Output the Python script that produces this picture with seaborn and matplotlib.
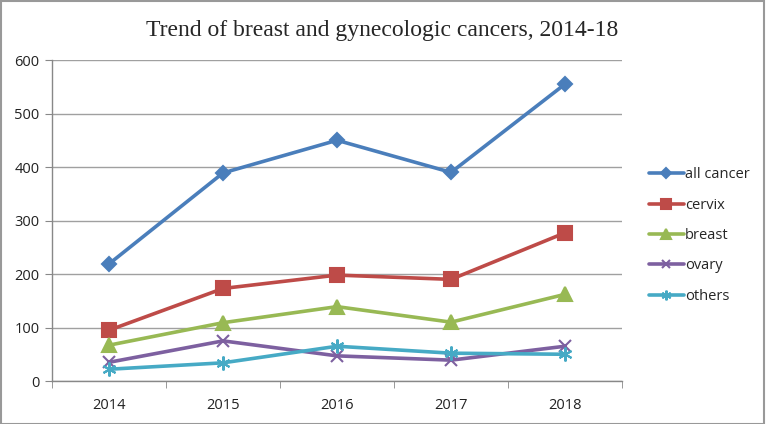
import matplotlib
matplotlib.use("Agg")
import matplotlib.pyplot as plt
import seaborn as sns
import pandas as pd
from matplotlib.patches import Rectangle

years = ["2014", "2015", "2016", "2017", "2018"]
all_cancer = [219, 389, 450, 390, 555]
cervix = [95, 173, 198, 190, 277]
breast = [67, 109, 139, 110, 162]
ovary = [35, 75, 47, 39, 65]
others = [22, 34, 65, 52, 50]
series_names = ["all cancer", "cervix", "breast", "ovary", "others"]
yticks = [0, 100, 200, 300, 400, 500, 600]

series_values = [all_cancer, cervix, breast, ovary, others]

sns.set_style("white")
plt.rcParams["font.family"] = ["Open Sans", "DejaVu Sans"]

colors = ["#4A7EBB", "#BE4B48", "#98B954", "#7D60A0", "#46AAC5"]
markers = ["D", "s", "^", "x", (6, 2, 0)]
msizes = [7, 10, 10, 9, 10]

fig = plt.figure(figsize=(7.66, 4.24), dpi=100)
ax = fig.add_axes([0.068, 0.1014, 0.744, 0.757])

for name, vals, c, m, ms in zip(series_names, series_values, colors, markers, msizes):
    d = pd.DataFrame({"pos": list(range(len(years))), "value": vals})
    sns.lineplot(data=d, x="pos", y="value", color=c, marker=m, markersize=ms,
                 markeredgecolor=c, markerfacecolor=c, markeredgewidth=1.5,
                 linewidth=2.6, label=name, ax=ax)

ax.set_xlim(-0.5, 4.5)
ax.set_ylim(0, 600)
ax.set_yticks(yticks)
ax.set_yticklabels([str(t) for t in yticks], fontsize=10.5, color="#222222")
ax.set_xticks(range(len(years)))
ax.set_xticklabels(years, fontsize=10.5, color="#222222")
ax.set_xticks([-0.5, 0.5, 1.5, 2.5, 3.5, 4.5], minor=True)
ax.tick_params(axis="x", which="major", length=0, pad=12)
ax.tick_params(axis="x", which="minor", length=5, color="#888888", direction="out", bottom=True)
ax.tick_params(axis="y", length=5, color="#888888", direction="out", left=True, pad=4)
ax.set_xlabel("")
ax.set_ylabel("")
ax.grid(axis="y", color="#a0a0a0", linewidth=1)
ax.set_axisbelow(True)
for s in ["top", "right"]:
    ax.spines[s].set_visible(False)
for s in ["left", "bottom"]:
    ax.spines[s].set_color("#888888")
    ax.spines[s].set_linewidth(1)

handles, labels = ax.get_legend_handles_labels()
ax.get_legend().remove()
leg = fig.legend(handles, labels, loc="upper left", bbox_to_anchor=(0.83, 0.636),
                 frameon=False, fontsize=10.5, labelspacing=1.05, handlelength=2.4,
                 handletextpad=0.05)
for h in leg.legend_handles:
    h.set_linewidth(2.6)
    h.set_markersize(h.get_markersize() * 0.7)

fig.text(0.499, 0.928, "Trend of breast and gynecologic cancers, 2014-18",
         ha="center", va="center", fontsize=17, family="Liberation Serif")

fig.patches.append(Rectangle((0.001, 0.001), 0.997, 0.997, transform=fig.transFigure,
                             fill=False, edgecolor="#999999", linewidth=1.5))

fig.savefig("out.png", dpi=100)
